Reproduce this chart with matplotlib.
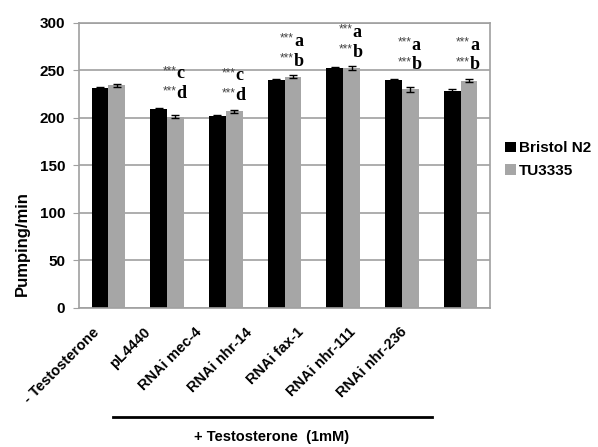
import numpy as np
import matplotlib.pyplot as plt

categories = ['- Testosterone', 'pL4440', 'RNAi mec-4', 'RNAi nhr-14',
              'RNAi fax-1', 'RNAi nhr-111', 'RNAi nhr-236']
n2 = [231, 209, 202, 240, 252.5, 240, 228]
n2_err = [1, 1, 0.5, 0.5, 0.5, 0.5, 2]
tu = [234, 201, 206.5, 243, 252, 230, 239]
tu_err = [1.5, 1.5, 1.5, 1.5, 2, 2.5, 1.5]
upper_marks = ['', 'c', 'c', 'a', 'a', 'a', 'a']
lower_marks = ['', 'd', 'd', 'b', 'b', 'b', 'b']
series_names = ['Bristol N2', 'TU3335']

plt.rcParams['font.family'] = ['Liberation Sans', 'DejaVu Sans']
plt.rcParams['font.weight'] = 'bold'

W, H = 598, 447
fig = plt.figure(figsize=(W/100, H/100), dpi=100)
ax = fig.add_axes([79/W, 1 - 307.5/H, 411/W, 284.8/H])

x = np.arange(len(categories))
w = 0.285
grid_c = '#a0a0a0'
ax.bar(x - w/2, n2, w, color='black', label=series_names[0], zorder=2,
       yerr=n2_err, error_kw=dict(ecolor='black', elinewidth=1, capsize=3, capthick=1))
ax.bar(x + w/2, tu, w, color='#a6a6a6', label=series_names[1], zorder=2,
       yerr=tu_err, error_kw=dict(ecolor='black', elinewidth=1, capsize=3, capthick=1))

# significance marks
for i in range(len(categories)):
    if not upper_marks[i]:
        continue
    top = max(n2[i] + n2_err[i], tu[i] + tu_err[i])
    for off, letter in [(15, lower_marks[i]), (36, upper_marks[i])]:
        xc = x[i] + 0.16
        ax.text(xc, top + off, letter, ha='left', va='center',
                fontsize=13, fontweight='bold', family='Liberation Serif')
        ax.text(xc, top + off + 3, '***', ha='right', va='center',
                fontsize=8.5, fontweight='normal', color='#444444')

ax.set_xlim(-0.5, len(categories) - 0.5)
ax.set_ylim(0, 300)
ax.set_yticks(range(0, 301, 50))
ax.yaxis.grid(True, color=grid_c, linewidth=1.2, zorder=0)
ax.set_axisbelow(True)
for s in ax.spines.values():
    s.set_color(grid_c)
    s.set_linewidth(1.2)
ax.tick_params(axis='y', length=4, color=grid_c, labelsize=11, pad=6)
ax.set_xticks([])
ax.set_ylabel('Pumping/min', fontsize=12, fontweight='bold')
ax.yaxis.set_label_coords(-0.12, 0.226)

# category labels sit on a narrower strip than the bars, as in the original
lab_ax = fig.add_axes([66/W, 1 - 325/H, 359/W, 0.001])
lab_ax.set_xlim(-0.5, len(categories) - 0.5)
lab_ax.axis('off')
for i, c in enumerate(categories):
    lab_ax.text(i, 0, c, rotation=45, ha='right', va='top', rotation_mode='anchor',
                fontsize=10.5, fontweight='bold')

ax.legend(loc='center left', bbox_to_anchor=(1.0, 0.52), frameon=False,
          fontsize=11, handlelength=0.7, handleheight=0.7, handletextpad=0.2,
          labelspacing=0.55, borderaxespad=0.6)

fig.add_artist(plt.Line2D([113/W, 432/W], [1 - 417/H, 1 - 417/H],
                          color='black', linewidth=2))
fig.text(272/W, 1 - 437/H, '+ Testosterone  (1mM)', ha='center', va='center',
         fontsize=10.5, fontweight='bold')

fig.savefig('out.png', dpi=100)
